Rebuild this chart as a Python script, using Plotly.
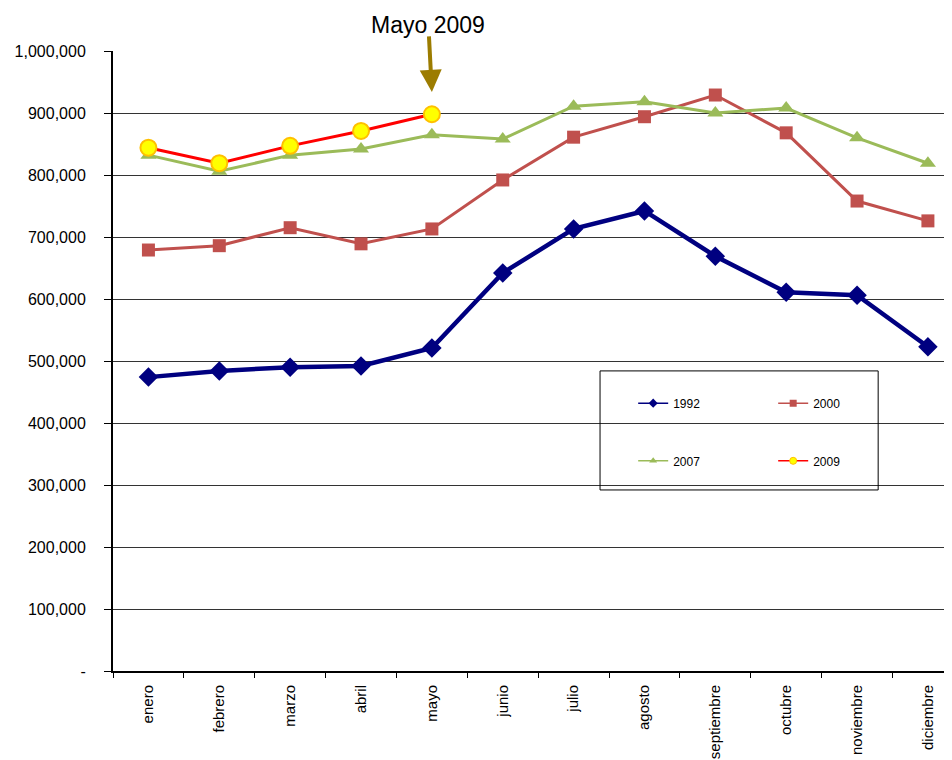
import plotly.graph_objects as go

### Data ###
meses = ["enero", "febrero", "marzo", "abril", "mayo", "junio", "julio",
         "agosto", "septiembre", "octubre", "noviembre", "diciembre"]

v1992 = [474000, 484000, 490000, 492000, 521000, 642000, 713000, 742000,
         669000, 611000, 606000, 523000]
v2000 = [679000, 686000, 715000, 689000, 713000, 792000, 861000, 894000,
         929000, 868000, 758000, 726000]
v2007 = [832000, 806000, 832000, 842000, 865000, 858000, 911000, 918000,
         900000, 908000, 860000, 819000]
v2009 = [844000, 819000, 847000, 871000, 898000]

y_ticks = [0, 100000, 200000, 300000, 400000, 500000, 600000, 700000,
           800000, 900000, 1000000]
y_labels = ["-", "100,000", "200,000", "300,000", "400,000", "500,000",
            "600,000", "700,000", "800,000", "900,000", "1,000,000"]

FONT = "Liberation Sans, Arial, sans-serif"

# (name, values, line colour, line width, marker symbol, marker size, marker fill, marker border, legend)
series = [
    ("1992", v1992, "#000080", 4.5, "diamond", 15, "#000080", "#000080", "legend"),
    ("2000", v2000, "#C0504D", 3, "square", 13, "#C0504D", "#C0504D", "legend"),
    ("2007", v2007, "#9BBB59", 3, "triangle-up", 14, "#9BBB59", "#9BBB59", "legend2"),
    ("2009", v2009, "#FF0000", 3, "circle", 16, "#FFFF00", "#FFC000", "legend2"),
]

fig = go.Figure()

for name, vals, col, lw, sym, ms, fill, border, leg in series:
    fig.add_trace(go.Scatter(x=meses[:len(vals)], y=vals, name=name, mode="lines+markers",
                             line=dict(color=col, width=lw),
                             marker=dict(symbol=sym, size=ms, color=fill,
                                         line=dict(color=border, width=2 if name == "2009" else 0)),
                             showlegend=False))

# legend-only entries with thin lines and small markers (as in the original)
for name, vals, col, lw, sym, ms, fill, border, leg in series:
    fig.add_trace(go.Scatter(x=[None], y=[None], name=name, mode="lines+markers",
                             line=dict(color=col, width=1.5),
                             marker=dict(symbol=sym, size=7, color=fill,
                                         line=dict(color=border, width=1 if name == "2009" else 0)),
                             legend=leg, showlegend=True))

# label + arrow pointing at May 2009
fig.add_annotation(x=0.375, y=1.042, xref="paper", yref="paper", text="Mayo 2009",
                   showarrow=False, font=dict(size=23, color="black", family=FONT),
                   xanchor="center", yanchor="middle")
fig.add_annotation(x="mayo", y=934000, xref="x", yref="y", text="",
                   showarrow=True, ax=-3, ay=-57, arrowhead=2, arrowsize=1.1,
                   arrowwidth=4, arrowcolor="#9C7C00")

# legend frame
fig.add_shape(type="rect", xref="paper", yref="paper",
              x0=0.5805, x1=0.912, y0=0.292, y1=0.484,
              line=dict(color="black", width=1), fillcolor="rgba(0,0,0,0)")

legend_style = dict(orientation="h", bgcolor="rgba(0,0,0,0)", borderwidth=0,
                    entrywidth=95, entrywidthmode="pixels",
                    font=dict(size=12, color="black", family=FONT),
                    xanchor="left", yanchor="middle", itemclick=False)

fig.update_layout(
    width=944, height=752,
    margin=dict(l=105, r=0, t=43, b=89),
    paper_bgcolor="white", plot_bgcolor="white",
    font=dict(family=FONT, color="black"),
    showlegend=True,
    legend=dict(x=0.62, y=0.432, **legend_style),
    legend2=dict(x=0.62, y=0.339, **legend_style),
)

fig.update_xaxes(type="category", range=[-0.5, 11.34], tickson="boundaries",
                 tickangle=-90, ticks="outside", ticklen=5, tickcolor="black",
                 ticklabelstandoff=6,
                 showline=True, linecolor="black", linewidth=2, showgrid=False,
                 tickfont=dict(size=15, color="black", family=FONT))
fig.update_yaxes(range=[0, 1000000], tickvals=y_ticks, ticktext=y_labels,
                 ticks="outside", ticklen=7, tickcolor="black", ticklabelstandoff=15,
                 showline=True, linecolor="black", linewidth=2,
                 showgrid=True, gridcolor="#333333", gridwidth=1, zeroline=False,
                 tickfont=dict(size=16, color="black", family=FONT))

fig.write_html("out.html")
